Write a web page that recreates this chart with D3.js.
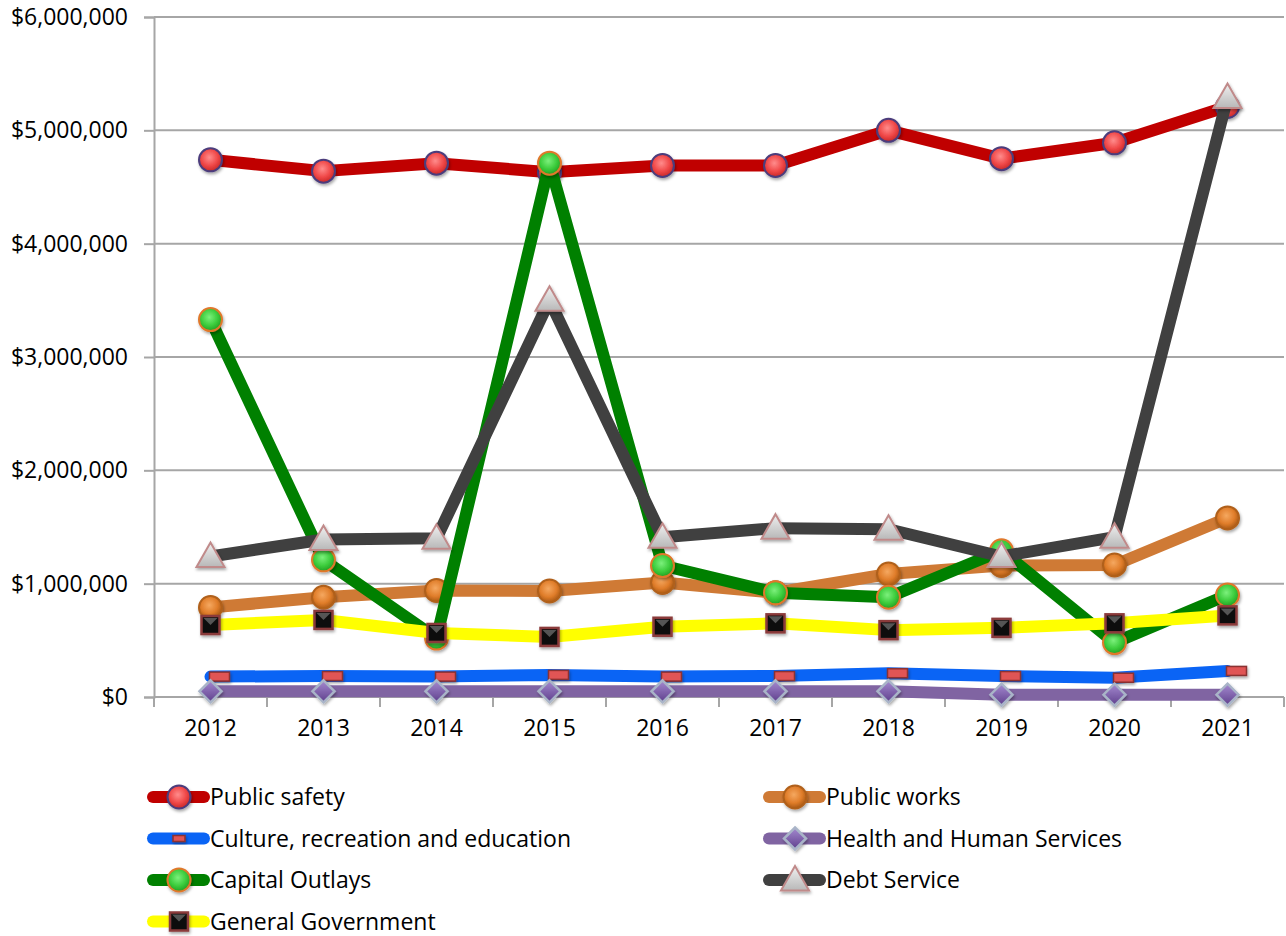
<html>
  <head>
    <meta charset="utf-8"/>
    <style>
      body {
        margin: 0;
        background: white;
      }
      text {
        font-family: "Open Sans", sans-serif;
        fill: #000;
      }
    </style>
    <script src="https://d3js.org/d3.v7.min.js"></script>
  </head>
  <body>
    <script>
    var width = 1286, height = 936;

    var years = ["2012","2013","2014","2015","2016","2017","2018","2019","2020","2021"];
    var yTicks = [0, 1000000, 2000000, 3000000, 4000000, 5000000, 6000000];

    var publicSafety = [4740000, 4640000, 4710000, 4630000, 4690000, 4690000, 5000000, 4750000, 4890000, 5210000];
    var publicWorks = [790000, 880000, 940000, 935000, 1010000, 920000, 1085000, 1160000, 1165000, 1580000];
    var culture = [180000, 185000, 180000, 195000, 180000, 185000, 210000, 185000, 170000, 230000];
    var health = [50000, 50000, 50000, 50000, 50000, 50000, 50000, 20000, 20000, 20000];
    var capitalOutlays = [3330000, 1210000, 520000, 4710000, 1160000, 920000, 880000, 1290000, 480000, 900000];
    var debtService = [1240000, 1390000, 1400000, 3500000, 1410000, 1490000, 1480000, 1240000, 1410000, 5290000];
    var generalGov = [635000, 680000, 565000, 530000, 620000, 650000, 590000, 610000, 650000, 720000];

    var series = [
      {name: "Public safety", values: publicSafety, color: "#c00000", marker: "ball", fill: "red", stroke: "#4b3c7c"},
      {name: "Public works", values: publicWorks, color: "#cf7a35", marker: "ball", fill: "orange", stroke: "#b0601a"},
      {name: "Culture, recreation and education", values: culture, color: "#0a64f5", marker: "dash", fill: "#e05454", stroke: "#8a3030"},
      {name: "Health and Human Services", values: health, color: "#8064a2", marker: "diamond", fill: "purple", stroke: "#a9b4c8"},
      {name: "Capital Outlays", values: capitalOutlays, color: "#008000", marker: "ball", fill: "green", stroke: "#e0782c"},
      {name: "Debt Service", values: debtService, color: "#404040", marker: "triangle", fill: "gray", stroke: "#c08a8a"},
      {name: "General Government", values: generalGov, color: "#ffff00", marker: "square", fill: "#111", stroke: "#8b3a3a"}
    ];

    var svg = d3.select("body").append("svg")
      .attr("width", width).attr("height", height);

    var defs = svg.append("defs");
    function ballGrad(id, light, mid, dark) {
      var g = defs.append("radialGradient").attr("id", id)
        .attr("cx", "45%").attr("cy", "40%").attr("r", "60%");
      g.append("stop").attr("offset", "0%").attr("stop-color", light);
      g.append("stop").attr("offset", "60%").attr("stop-color", mid);
      g.append("stop").attr("offset", "100%").attr("stop-color", dark);
    }
    ballGrad("g-red", "#ff8c8c", "#f04848", "#c82828");
    ballGrad("g-orange", "#f5a860", "#e07d2a", "#a85814");
    ballGrad("g-green", "#7cf07c", "#3ccc3c", "#22a022");
    var pg = defs.append("linearGradient").attr("id", "g-purple")
      .attr("x1", "0").attr("y1", "0").attr("x2", "0").attr("y2", "1");
    pg.append("stop").attr("offset", "0%").attr("stop-color", "#a58ad0");
    pg.append("stop").attr("offset", "100%").attr("stop-color", "#5e3f8c");
    var tg = defs.append("linearGradient").attr("id", "g-gray")
      .attr("x1", "0").attr("y1", "0").attr("x2", "0").attr("y2", "1");
    tg.append("stop").attr("offset", "0%").attr("stop-color", "#f0f0f0");
    tg.append("stop").attr("offset", "100%").attr("stop-color", "#b8b8b8");
    var sh = defs.append("filter").attr("id", "shadow")
      .attr("x", "-50%").attr("y", "-50%").attr("width", "200%").attr("height", "200%");
    sh.append("feDropShadow").attr("dx", 1).attr("dy", 2).attr("stdDeviation", 1.5)
      .attr("flood-color", "#000").attr("flood-opacity", 0.35);

    var fills = {red: "url(#g-red)", orange: "url(#g-orange)", green: "url(#g-green)",
                 purple: "url(#g-purple)", gray: "url(#g-gray)"};

    var x = d3.scaleBand().domain(years).range([154, 1284]);
    var y = d3.scaleLinear().domain([0, 6000000]).range([697, 17]);
    var cx = d => x(d) + x.bandwidth() / 2;

    // gridlines
    svg.append("g").selectAll("line").data(yTicks).enter().append("line")
      .attr("x1", 154).attr("x2", 1284)
      .attr("y1", d => y(d)).attr("y2", d => y(d))
      .attr("stroke", "#a6a6a6").attr("stroke-width", 2);

    // y axis
    var yAxis = svg.append("g").attr("transform", "translate(154,0)")
      .call(d3.axisLeft(y).tickValues(yTicks).tickSize(10).tickPadding(16)
        .tickFormat(d => "$" + d3.format(",")(d)));
    yAxis.select(".domain").attr("stroke", "#a6a6a6").attr("stroke-width", 2);
    yAxis.selectAll(".tick line").attr("stroke", "#a6a6a6").attr("stroke-width", 2);
    yAxis.selectAll("text").style("font-size", "23px").style("font-family", "'Open Sans', sans-serif");

    // x axis
    var xAxis = svg.append("g").attr("transform", "translate(0,697)")
      .call(d3.axisBottom(x).tickSize(0).tickPadding(23));
    xAxis.select(".domain").remove();
    xAxis.selectAll("text").style("font-size", "23px").style("font-family", "'Open Sans', sans-serif");
    svg.append("g").selectAll("line").data(d3.range(years.length + 1)).enter().append("line")
      .attr("x1", i => 154 + i * x.bandwidth()).attr("x2", i => 154 + i * x.bandwidth())
      .attr("y1", 697).attr("y2", 707)
      .attr("stroke", "#a6a6a6").attr("stroke-width", 2);

    function drawMarker(g, s, px, py, small) {
      var fill = fills[s.fill] || s.fill;
      if (s.marker == "ball") {
        g.append("circle").attr("cx", px).attr("cy", py).attr("r", 11.5)
          .attr("fill", fill).attr("stroke", s.stroke).attr("stroke-width", 2)
          .attr("filter", "url(#shadow)");
      } else if (s.marker == "dash") {
        var w = small ? 12 : 20, h = small ? 6 : 9, off = small ? 0 : 9;
        g.append("rect").attr("x", px + off - w / 2).attr("y", py - h / 2)
          .attr("width", w).attr("height", h)
          .attr("fill", fill).attr("stroke", s.stroke).attr("stroke-width", 1.5)
          .attr("filter", "url(#shadow)");
      } else if (s.marker == "diamond") {
        var r = 11;
        g.append("path")
          .attr("d", "M" + px + "," + (py - r) + "L" + (px + r) + "," + py + "L" + px + "," + (py + r) + "L" + (px - r) + "," + py + "Z")
          .attr("fill", fill).attr("stroke", s.stroke).attr("stroke-width", 2.5)
          .attr("filter", "url(#shadow)");
      } else if (s.marker == "triangle") {
        var r = 14;
        g.append("path")
          .attr("d", "M" + px + "," + (py - r) + "L" + (px + r) + "," + (py + r * 0.75) + "L" + (px - r) + "," + (py + r * 0.75) + "Z")
          .attr("fill", fill).attr("stroke", s.stroke).attr("stroke-width", 2)
          .attr("filter", "url(#shadow)");
      } else if (s.marker == "square") {
        var r = 9;
        g.append("rect").attr("x", px - r).attr("y", py - r).attr("width", 2 * r).attr("height", 2 * r)
          .attr("fill", fill).attr("stroke", s.stroke).attr("stroke-width", 2.5)
          .attr("filter", "url(#shadow)");
        g.append("path")
          .attr("d", "M" + (px - r + 2) + "," + (py - r + 2) + "L" + px + "," + py + "L" + (px + r - 2) + "," + (py - r + 2) + "Z")
          .attr("fill", "#555");
      }
    }

    var line = d3.line().x((d, i) => cx(years[i])).y(d => y(d));

    series.forEach(function(s) {
      var g = svg.append("g");
      g.append("path").datum(s.values).attr("d", line)
        .attr("fill", "none").attr("stroke", s.color).attr("stroke-width", 12)
        .attr("stroke-linecap", "round").attr("stroke-linejoin", "round");
      s.values.forEach(function(v, i) {
        drawMarker(g, s, cx(years[i]), y(v), false);
      });
    });

    // legend
    var legend = svg.append("g");
    series.forEach(function(s, i) {
      var col = i % 2, row = Math.floor(i / 2);
      var lx = col == 0 ? 148 : 764, ly = 797 + row * 41.5;
      var g = legend.append("g");
      g.append("line").attr("x1", lx + 5).attr("x2", lx + 56).attr("y1", ly).attr("y2", ly)
        .attr("stroke", s.color).attr("stroke-width", 12).attr("stroke-linecap", "round");
      drawMarker(g, s, lx + 31, ly, true);
      g.append("text").attr("x", lx + 62).attr("y", ly).attr("dy", "0.35em")
        .style("font-size", "23px").text(s.name);
    });
    </script>
  </body>
</html>
